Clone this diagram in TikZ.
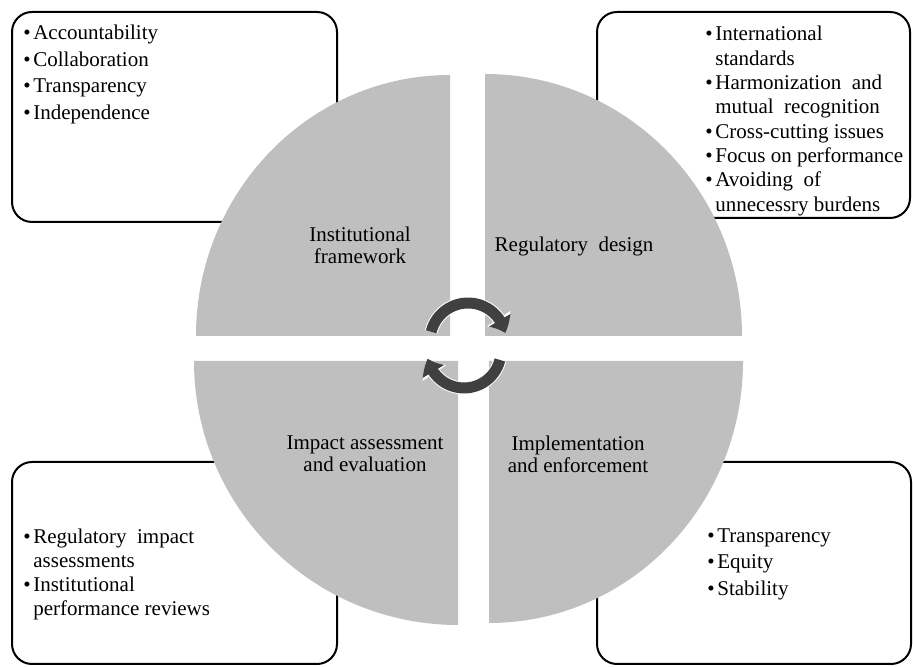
\documentclass[tikz,border=0pt]{standalone}
\usepackage{fontspec}
\setmainfont{Liberation Serif}
\usetikzlibrary{arrows.meta,bending}
\pgfdeclarelayer{front}
\pgfsetlayers{main,front}
\definecolor{quadgray}{RGB}{191,191,191}
\definecolor{cycgray}{RGB}{64,64,64}
\newcommand\bul{\textbullet\hspace{1.3pt}}
\newcommand\cnt{\phantom{\bul}}
\tikzset{
  infobox/.style={draw, line width=1pt, rounded corners=10pt, fill=white, inner sep=0pt},
  bullets/.style={align=left, anchor=north west, inner sep=0pt},
  quadlabel/.style={align=center, inner sep=0pt, font=\fontsize{10.5}{11}\selectfont},
  cychalo/.style={draw=white, line width=6.5pt, -{Triangle[length=8pt, width=13.5pt, bend]}},
  cycarrow/.style={draw=cycgray, line width=5.5pt, -{Triangle[length=7pt, width=12pt, bend]}},
}
\begin{document}
\begin{tikzpicture}[x=0.5pt, y=0.5pt]
  \useasboundingbox (0,0) rectangle (913,667);
  % the four text boxes
  \node[infobox, minimum width=162.5pt, minimum height=105pt] (tlbox) at (174.5,550) {};
  \node[infobox, minimum width=156.5pt, minimum height=103pt] (trbox) at (753.5,552) {};
  \node[infobox, minimum width=162.5pt, minimum height=101pt] (blbox) at (174.5,104) {};
  \node[infobox, minimum width=157pt, minimum height=101pt] (brbox) at (754,104) {};
  \node[bullets, font=\fontsize{10.5}{13.25}\selectfont] (tllist) at (23,642)
    {\bul Accountability\\\bul Collaboration\\\bul Transparency\\\bul Independence};
  \node[bullets, font=\fontsize{10.5}{12.15}\selectfont] (trlist) at (705,641)
    {\bul International\\\cnt standards\\\bul Harmonization \ and\\\cnt mutual \ recognition\\
     \bul Cross-cutting issues\\\bul Focus on performance\\\bul Avoiding \ of\\\cnt unnecessry burdens};
  \node[bullets, font=\fontsize{10.5}{11.9}\selectfont] (bllist) at (23,138)
    {\bul Regulatory \ impact\\\cnt assessments\\\bul Institutional\\\cnt performance reviews};
  \node[bullets, font=\fontsize{10.5}{13.25}\selectfont] (brlist) at (707,139)
    {\bul Transparency\\\bul Equity\\\bul Stability};
  \begin{pgfonlayer}{front}
    % quarter discs, over the boxes
    \fill[quadgray] (450,331) -- (196,331) arc[start angle=180, end angle=90, x radius=127pt, y radius=130.5pt] -- cycle;
    \fill[quadgray] (485,331) -- (742,331) arc[start angle=0, end angle=90, x radius=128.5pt, y radius=131pt] -- cycle;
    \fill[quadgray] (458,306) -- (194,306) arc[start angle=180, end angle=270, x radius=132pt, y radius=132pt] -- cycle;
    \fill[quadgray] (489,306) -- (743,306) arc[start angle=0, end angle=-90, x radius=127pt, y radius=131pt] -- cycle;
    \node[quadlabel] (inst) at (360,422) {Institutional\\framework};
    \node[quadlabel] (regd) at (574,421) {Regulatory \ design};
    \node[quadlabel] (impa) at (365,213) {Impact assessment\\and evaluation};
    \node[quadlabel] (impl) at (578,213) {Implementation\\and enforcement};
    % cycle arrows in the middle
    \coordinate (upc) at (468,326);
    \coordinate (loc) at (464,316);
    \draw[cychalo] (upc) ++(166:38) arc[start angle=166, end angle=12, radius=19pt];
    \draw[cychalo] (loc) ++(-14:37) arc[start angle=-14, end angle=-168, radius=18.5pt];
    \draw[cycarrow] (upc) ++(166:38) arc[start angle=166, end angle=12, radius=19pt];
    \draw[cycarrow] (loc) ++(-14:37) arc[start angle=-14, end angle=-168, radius=18.5pt];
  \end{pgfonlayer}
\end{tikzpicture}
\end{document}
